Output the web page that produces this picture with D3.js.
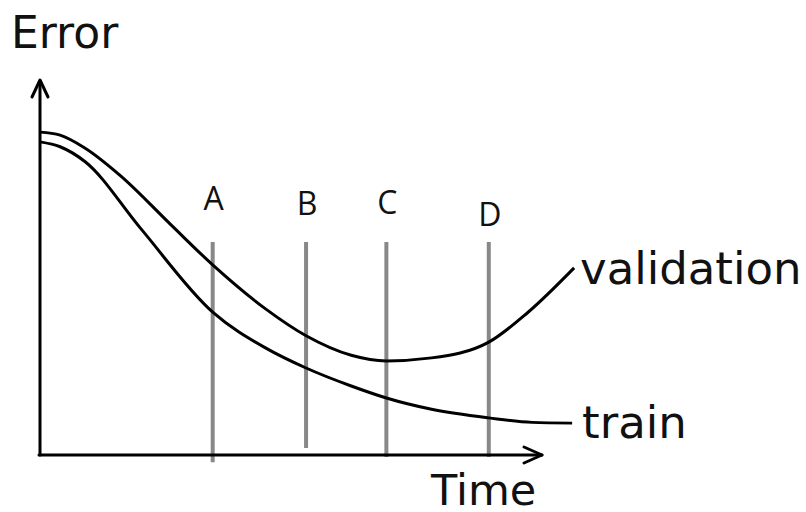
<!DOCTYPE html>
<html>
<head>
<meta charset="utf-8">
<script src="https://cdn.jsdelivr.net/npm/d3@7"></script>
<style>
  html, body { margin: 0; padding: 0; background: #fff; }
  svg { display: block; }
</style>
</head>
<body>
<svg id="chart" width="806" height="512"></svg>
<script>
// ---- data (time units 0..100 along the axis, error units 0..100 up the axis) ----
const validationTime  = [0, 4, 9, 16, 26, 34.4, 45, 53, 62, 69, 78, 89.4, 97, 106.4];
const validationError = [86.1, 85.3, 81.8, 74.5, 61.5, 50.7, 38.9, 31.8, 26.6, 25.1, 25.9, 30.1, 37.8, 49.9];
const trainTime  = [0, 4, 9, 20, 34.4, 45, 53, 62, 69, 78, 89.4, 98, 106];
const trainError = [83.5, 82.2, 78.2, 60.5, 38.1, 28.5, 23.2, 18.4, 15.2, 12.2, 9.9, 8.7, 8.5];
const markerLabels = ["A", "B", "C", "D"];
const markerTime   = [34.4, 53, 69, 89.4];
const markerTop    = [56.8, 56.8, 56.8, 56.8];
const markerBottom = [-1.9, 1.9, -0.5, -0.5];
const markerLabelError = [65.3, 63.9, 64.3, 61.1];
const seriesLabels = ["validation", "train"];
const axisTitles = ["Error", "Time"];

const svg = d3.select("#chart");
svg.append("rect").attr("width", 806).attr("height", 512).attr("fill", "#fff");

const x = d3.scaleLinear().domain([0, 100]).range([40, 542]);
const y = d3.scaleLinear().domain([0, 100]).range([455, 80]);

// vertical marker lines
const markers = markerLabels.map((l, i) => ({l, t: markerTime[i], top: markerTop[i], bot: markerBottom[i], le: markerLabelError[i]}));
svg.selectAll("line.marker").data(markers).join("line")
  .attr("class", "marker")
  .attr("x1", d => x(d.t)).attr("x2", d => x(d.t))
  .attr("y1", d => y(d.top)).attr("y2", d => y(d.bot))
  .attr("stroke", "#888").attr("stroke-width", 4);

svg.selectAll("text.mlabel").data(markers).join("text")
  .attr("class", "mlabel")
  .attr("x", d => x(d.t) + 1).attr("y", d => y(d.le))
  .attr("text-anchor", "middle")
  .attr("font-family", "'Open Sans', sans-serif")
  .attr("font-size", 32)
  .attr("fill", "#111")
  .text(d => d.l);

// curves
const line = d3.line().x(d => x(d[0])).y(d => y(d[1])).curve(d3.curveMonotoneX);
const valData = validationTime.map((t, i) => [t, validationError[i]]);
const trData = trainTime.map((t, i) => [t, trainError[i]]);
[valData, trData].forEach(dat => {
  svg.append("path").datum(dat).attr("d", line)
    .attr("fill", "none").attr("stroke", "#000").attr("stroke-width", 3)
    .attr("stroke-linejoin", "round");
});

// axes
const ax = svg.append("g").attr("stroke", "#000").attr("stroke-width", 3).attr("fill", "none")
  .attr("stroke-linecap", "round").attr("stroke-linejoin", "round");
ax.append("line").attr("x1", x(0)).attr("y1", y(0)).attr("x2", x(0)).attr("y2", y(100) + 1);
ax.append("line").attr("x1", x(0) - 1).attr("y1", y(0)).attr("x2", x(100)).attr("y2", y(0));
ax.append("path").attr("d", `M${x(0) - 8},${y(100) + 17} L${x(0)},${y(100)} L${x(0) + 8},${y(100) + 17}`);
ax.append("path").attr("d", `M${x(100) - 18},${y(0) - 8} L${x(100)},${y(0)} L${x(100) - 18},${y(0) + 8}`);

// labels
const font = "'DejaVu Sans', Verdana, sans-serif";
svg.append("text").attr("x", 11).attr("y", 48).attr("font-family", font).attr("font-size", 44)
  .attr("fill", "#111").text(axisTitles[0]);
svg.append("text").attr("x", 431).attr("y", 505).attr("font-family", font).attr("font-size", 43)
  .attr("fill", "#111").text(axisTitles[1]);
svg.append("text").attr("x", 580).attr("y", 284).attr("font-family", font).attr("font-size", 45)
  .attr("fill", "#111").text(seriesLabels[0]);
svg.append("text").attr("x", 582).attr("y", 438).attr("font-family", font).attr("font-size", 45)
  .attr("fill", "#111").text(seriesLabels[1]);
</script>
</body>
</html>
